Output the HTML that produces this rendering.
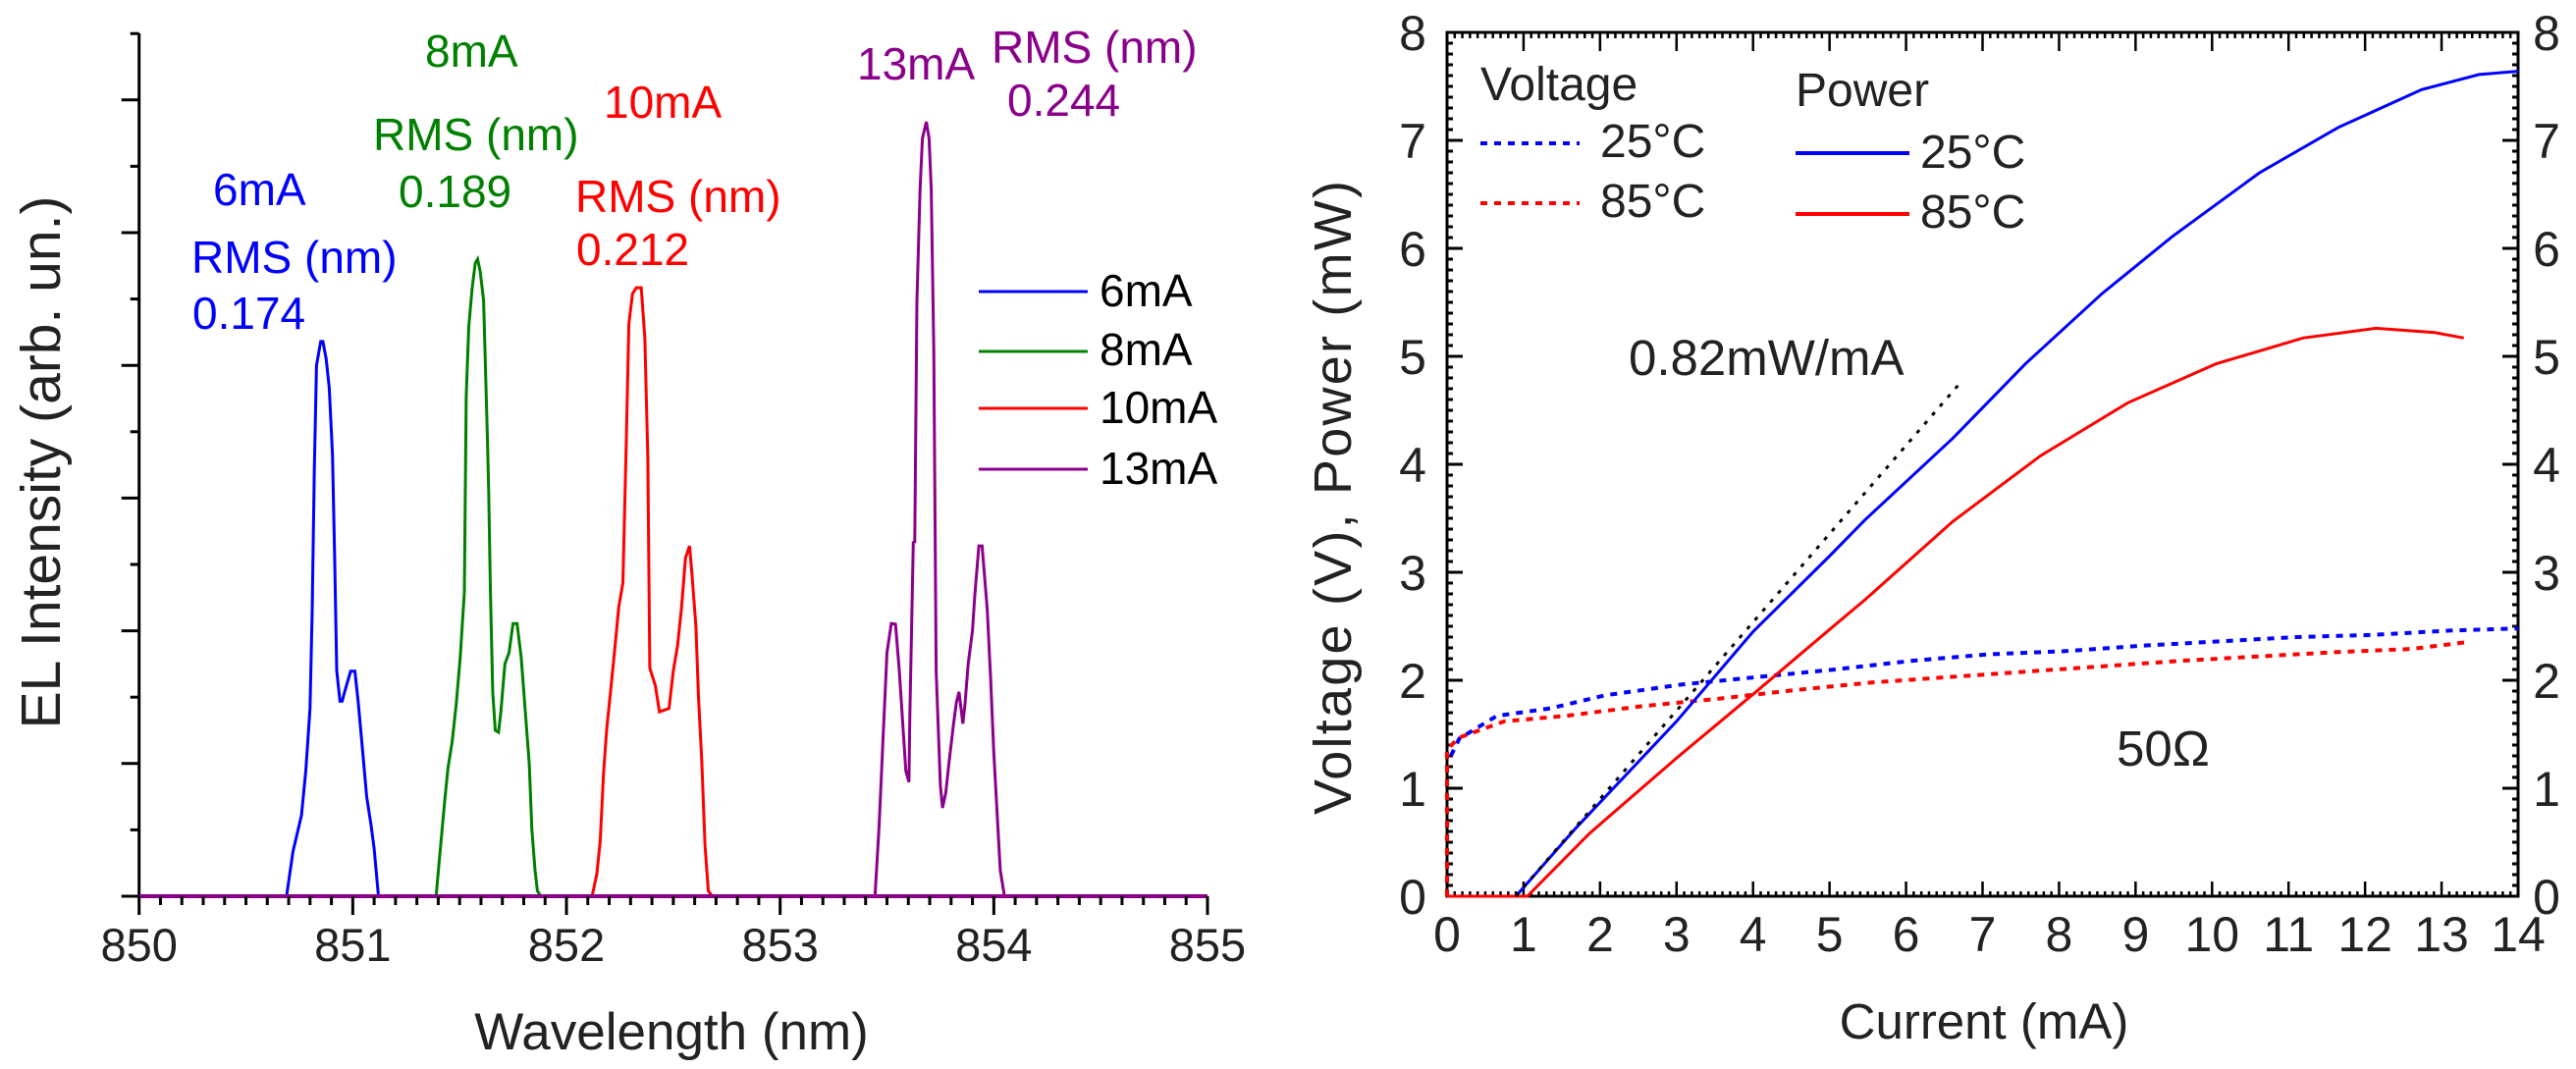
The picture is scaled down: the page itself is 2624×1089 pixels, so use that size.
<!DOCTYPE html>
<html><head><meta charset="utf-8"><title>EL spectra and LIV</title>
<style>
html,body{margin:0;padding:0;background:#fff;}
svg{display:block;font-family:"Liberation Sans",Arial,sans-serif;}
</style></head>
<body>
<svg id="fig" width="2624" height="1089" viewBox="0 0 2624 1089" xmlns="http://www.w3.org/2000/svg">
  <rect width="2624" height="1089" fill="#fff"/>
  <g id="left"></g>
  <g id="right"></g>

  <g font-size="46">
    <text x="217" y="209" fill="#0000ff">6mA</text>
    <text x="195" y="278" fill="#0000ff">RMS (nm)</text>
    <text x="196" y="335" fill="#0000ff">0.174</text>
    <text x="433" y="68" fill="#008000">8mA</text>
    <text x="380" y="153" fill="#008000">RMS (nm)</text>
    <text x="406" y="211" fill="#008000">0.189</text>
    <text x="615" y="120" fill="#ff0000">10mA</text>
    <text x="586" y="216" fill="#ff0000">RMS (nm)</text>
    <text x="587" y="270" fill="#ff0000">0.212</text>
    <text x="873" y="81" fill="#8b008b">13mA</text>
    <text x="1010" y="64" fill="#8b008b">RMS (nm)</text>
    <text x="1026" y="118" fill="#8b008b">0.244</text>
  </g>
  <g font-size="46" fill="#000">
    <g><line x1="997" y1="297" x2="1108" y2="297" stroke="#0000ff" stroke-width="3"/><text x="1120" y="312">6mA</text></g>
    <g><line x1="997" y1="358" x2="1108" y2="358" stroke="#008000" stroke-width="3"/><text x="1120" y="372">8mA</text></g>
    <g><line x1="997" y1="416" x2="1108" y2="416" stroke="#ff0000" stroke-width="3"/><text x="1120" y="431">10mA</text></g>
    <g><line x1="997" y1="478" x2="1108" y2="478" stroke="#8b008b" stroke-width="3"/><text x="1120" y="493">13mA</text></g>
  </g>
  <text x="61" y="471" font-size="57" text-anchor="middle" fill="#222" transform="rotate(-90 61 471)">EL Intensity (arb. un.)</text>
  <text x="684" y="1069" font-size="53" text-anchor="middle" fill="#222">Wavelength (nm)</text>

  <g font-size="48" fill="#222">
    <text x="1508" y="102">Voltage</text>
    <text x="1829" y="108">Power</text>
    <g><line x1="1508" y1="146" x2="1609" y2="146" stroke="#0000ff" stroke-width="4" stroke-dasharray="7,7"/><text x="1630" y="160">25°C</text></g>
    <g><line x1="1508" y1="207" x2="1609" y2="207" stroke="#ff0000" stroke-width="4" stroke-dasharray="7,7"/><text x="1630" y="221">85°C</text></g>
    <g><line x1="1829" y1="156" x2="1945" y2="156" stroke="#0000ff" stroke-width="4"/><text x="1956" y="171">25°C</text></g>
    <g><line x1="1829" y1="218" x2="1945" y2="218" stroke="#ff0000" stroke-width="4"/><text x="1956" y="232">85°C</text></g>
  </g>
  <text x="1659" y="382" font-size="51" fill="#222">0.82mW/mA</text>
  <text x="2156" y="780" font-size="51" fill="#222">50Ω</text>
  <text x="1376" y="507" font-size="54" text-anchor="middle" textLength="646" lengthAdjust="spacing" fill="#222" transform="rotate(-90 1376 507)">Voltage (V), Power (mW)</text>
  <text x="2021" y="1058" font-size="51" text-anchor="middle" fill="#222">Current (mA)</text>
</svg>
<script>
const specXTicks = [850, 851, 852, 853, 854, 855];
const spec6mA = [[850,0],[850.69,0],[850.72,0.67],[850.76,1.22],[850.78,1.89],[850.80,2.83],[850.81,4.3],[850.82,6.45],[850.83,8.0],[850.85,8.36],[850.86,8.36],[850.875,8.1],[850.89,7.66],[850.905,6.65],[850.915,5.1],[850.925,3.4],[850.94,2.94],[850.95,2.94],[850.97,3.17],[850.99,3.39],[851.01,3.39],[851.025,2.94],[851.045,2.22],[851.065,1.5],[851.085,1.08],[851.10,0.72],[851.12,0],[855,0]];
const spec8mA = [[850,0],[851.39,0],[851.41,0.72],[851.43,1.44],[851.446,1.94],[851.465,2.33],[851.484,2.89],[851.503,3.6],[851.522,4.58],[851.531,7.53],[851.543,8.58],[851.559,9.17],[851.573,9.54],[851.584,9.6],[851.596,9.42],[851.612,8.98],[851.63,6.9],[851.636,6.1],[851.644,4.64],[851.655,3.08],[851.667,2.5],[851.682,2.47],[851.693,2.78],[851.712,3.5],[851.731,3.67],[851.75,4.11],[851.769,4.11],[851.788,3.6],[851.807,2.8],[851.826,2.0],[851.838,1.0],[851.853,0.39],[851.864,0.08],[851.88,0],[855,0]];
const spec10mA = [[850,0],[852.12,0],[852.142,0.33],[852.158,0.83],[852.173,1.83],[852.188,2.5],[852.207,3.11],[852.226,3.72],[852.245,4.36],[852.264,4.72],[852.28,6.88],[852.292,8.63],[852.309,9.08],[852.327,9.17],[852.35,9.17],[852.367,8.4],[852.381,6.6],[852.39,3.44],[852.416,3.17],[852.435,2.78],[852.454,2.8],[852.48,2.83],[852.5,3.39],[852.52,3.78],[852.538,4.33],[852.557,5.1],[852.576,5.28],[852.588,4.83],[852.606,4.06],[852.618,3.0],[852.633,2.06],[852.648,0.78],[852.664,0.08],[852.683,0],[855,0]];
const spec13mA = [[850,0],[853.444,0],[853.463,1.06],[853.48,2.28],[853.5,3.67],[853.52,4.11],[853.54,4.1],[853.558,3.39],[853.577,2.44],[853.588,1.89],[853.603,1.72],[853.607,2.72],[853.623,5.33],[853.63,5.34],[853.64,8.96],[853.655,10.65],[853.666,11.42],[853.684,11.67],[853.697,11.42],[853.707,10.65],[853.719,8.22],[853.73,3.39],[853.75,1.67],[853.76,1.33],[853.775,1.56],[853.79,2.0],[853.81,2.56],[853.825,2.92],[853.837,3.08],[853.855,2.6],[853.865,2.9],[853.88,3.5],[853.9,4.0],[853.91,4.5],[853.93,5.28],[853.945,5.28],[853.969,4.33],[853.985,3.28],[854.0,2.17],[854.017,1.17],[854.03,0.39],[854.05,0],[855,0]];

const livXTicks = [0,1,2,3,4,5,6,7,8,9,10,11,12,13,14];
const livYTicks = [0,1,2,3,4,5,6,7,8];
const power25 = [[0,0],[0.9,0],[1.67,0.62],[3,1.62],[4,2.45],[5,3.15],[5.47,3.49],[6.61,4.24],[7.56,4.93],[8.56,5.58],[9.48,6.11],[10.62,6.70],[11.65,7.12],[12.74,7.47],[13.49,7.61],[14,7.64]];
const power85 = [[0,0],[1.05,0],[1.86,0.58],[3,1.28],[4,1.87],[5,2.47],[5.47,2.75],[6.61,3.47],[7.76,4.08],[8.9,4.57],[10.05,4.93],[11.19,5.17],[12.14,5.26],[12.91,5.22],[13.29,5.17]];
const voltage25 = [[0.05,1.3],[0.16,1.46],[0.65,1.67],[1.35,1.74],[2.06,1.86],[3.06,1.96],[4.06,2.03],[5.07,2.10],[6.07,2.18],[7.07,2.24],[8.08,2.27],[9.08,2.32],[10.09,2.36],[11.1,2.40],[12.1,2.42],[13.1,2.46],[14.0,2.48]];
const voltage85 = [[0,0],[0,1.36],[0.16,1.47],[0.75,1.62],[1.55,1.67],[2.55,1.76],[3.56,1.83],[4.56,1.91],[5.56,1.98],[6.57,2.03],[7.57,2.08],[8.58,2.13],[9.58,2.18],[10.59,2.22],[11.6,2.26],[12.6,2.29],[13.3,2.35]];
const slopeFit = [[0.9,0],[6.74,4.78]];

const NS = 'http://www.w3.org/2000/svg';
function mk(tag, attrs, parent){ const e=document.createElementNS(NS,tag); for(const k in attrs) e.setAttribute(k,attrs[k]); parent.appendChild(e); return e; }

const L = document.getElementById('left');
const lx0=141.7, lx1=1230, ly0=913, lyUnit=67.6, lTop=34;
const sx = v => lx0 + (v-850)/(855-850)*(lx1-lx0);
const sy = v => ly0 - v*lyUnit;
function linePath(data, fx, fy){ return data.map((p,i)=>(i?'L':'M')+fx(p[0]).toFixed(1)+' '+fy(p[1]).toFixed(1)).join(' '); }
const specSeries = [[spec6mA,'#0000ff','series-6ma'],[spec8mA,'#008000','series-8ma'],[spec10mA,'#ff0000','series-10ma'],[spec13mA,'#8b008b','series-13ma']];
specSeries.forEach(s=>{
  const p = mk('path',{d:linePath(s[0],sx,sy),fill:'none',stroke:s[1],'stroke-width':3,'stroke-linejoin':'miter'},L);
  
  
});
const lAxisY = mk('line',{x1:lx0,y1:lTop,x2:lx0,y2:ly0,stroke:'#000','stroke-width':3},L);


const lAxisX = mk('line',{x1:lx0,y1:ly0,x2:lx1,y2:ly0,stroke:'#8b008b','stroke-width':4},L);


for(let k=0;k<=13;k++){
  const y = ly0 - k*lyUnit;
  const t = mk('line',{x1:lx0-(k%2===0?18:9),y1:y,x2:lx0,y2:y,stroke:'#000','stroke-width':3},L);
  
  
}
for(let k=0;k<=50;k++){
  const v = 850 + k*0.1, x = sx(v);
  const major = k%10===0;
  const t = mk('line',{x1:x,y1:ly0,x2:x,y2:ly0+(major?19:9),stroke:'#000','stroke-width':3},L);
  
  
}
specXTicks.forEach(v=>{
  const t = mk('text',{x:sx(v),y:979,'font-size':47,'text-anchor':'middle',fill:'#222'},L);
  t.textContent = v;
  
  
});

const R = document.getElementById('right');
const rx0=1474, rx1=2565, ry0=913, ry1=33;
const cx = v => rx0 + v/14*(rx1-rx0);
const cy = v => ry0 - v/8*(ry0-ry1);
const frame = mk('rect',{x:rx0,y:ry1,width:rx1-rx0,height:ry0-ry1,fill:'none',stroke:'#000','stroke-width':3},R);


for(let k=0;k<=80;k++){
  const v=k*0.1, y=cy(v), major=k%10===0, len=major?16:6;
  const a = mk('line',{x1:rx0,y1:y,x2:rx0+len,y2:y,stroke:'#000','stroke-width':3},R);
  
  
  const b = mk('line',{x1:rx1-len,y1:y,x2:rx1,y2:y,stroke:'#000','stroke-width':3},R);
  
  
}
for(let k=0;k<=140;k++){
  const v=k*0.1, x=cx(v), major=k%10===0;
  const a = mk('line',{x1:x,y1:ry0,x2:x,y2:ry0-(major?15:5),stroke:'#000','stroke-width':2.5},R);
  
  
  const b = mk('line',{x1:x,y1:ry1,x2:x,y2:ry1+(major?19:6),stroke:'#000','stroke-width':2.5},R);
  
  
}
livYTicks.forEach(v=>{
  const a = mk('text',{x:1439,y:cy(v)+18,'font-size':50,'text-anchor':'middle',fill:'#222'},R);
  a.textContent = v;
  
  
  const b = mk('text',{x:2594,y:cy(v)+18,'font-size':50,'text-anchor':'middle',fill:'#222'},R);
  b.textContent = v;
  
  
});
livXTicks.forEach(v=>{
  const t = mk('text',{x:cx(v),y:969,'font-size':50,'text-anchor':'middle',fill:'#222'},R);
  t.textContent = v;
  
  
});
const livSeries = [
  [voltage25,'#0000ff','7,7',4,'series-voltage-25c'],
  [voltage85,'#ff0000','7,7',4,'series-voltage-85c'],
  [power25,'#0000ff','',3,'series-power-25c'],
  [power85,'#ff0000','',3,'series-power-85c'],
  [slopeFit,'#000','4,8',3,'slope-fit-line']
];
livSeries.forEach(s=>{
  const attrs = {d:linePath(s[0],cx,cy),fill:'none',stroke:s[1],'stroke-width':s[3]};
  if(s[2]) attrs['stroke-dasharray']=s[2];
  const p = mk('path',attrs,R);
  
  
});
</script>
</body></html>
